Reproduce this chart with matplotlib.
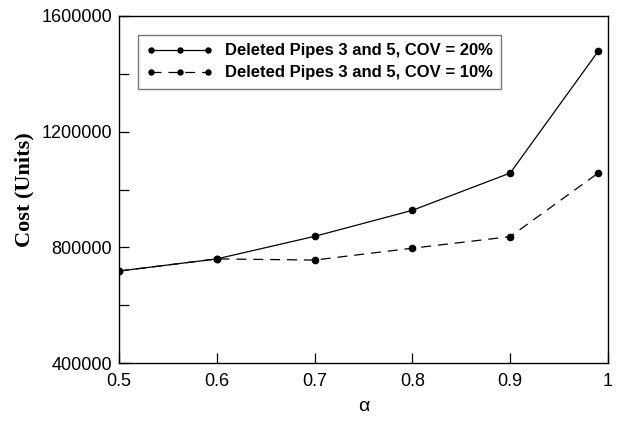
import numpy as np
import matplotlib.pyplot as plt
from matplotlib.ticker import MultipleLocator

alpha = [0.5, 0.6, 0.7, 0.8, 0.9, 0.99]
cost_cov20 = [718000, 760000, 838000, 928000, 1057000, 1478000]
cost_cov10 = [718000, 760000, 756000, 797000, 837000, 1057000]

plt.rcParams['font.family'] = ['Liberation Sans', 'DejaVu Sans']

fig = plt.figure(figsize=(6.17, 4.22), dpi=100)
ax = fig.add_axes([119/617, 1-363/422, (608-119)/617, (363-16)/422])

ax.plot(alpha, cost_cov20, '-', color='black', lw=0.9, marker='o', ms=4.5,
        label='Deleted Pipes 3 and 5, COV = 20%')
ax.plot(alpha, cost_cov10, '--', color='black', lw=0.9, marker='o', ms=4.5,
        dashes=(8, 5.5), label='Deleted Pipes 3 and 5, COV = 10%')

ax.set_xlim(0.5, 1.0)
ax.set_ylim(400000, 1600000)
ax.set_xticks([0.5, 0.6, 0.7, 0.8, 0.9, 1.0])
ax.set_xticklabels(['0.5', '0.6', '0.7', '0.8', '0.9', '1'])
ax.set_yticks([400000, 800000, 1200000, 1600000])
ax.set_yticklabels(['400000', '800000', '1200000', '1600000'])
ax.yaxis.set_minor_locator(MultipleLocator(200000))
ax.tick_params(direction='in', labelsize=13, length=7, width=0.9)
ax.tick_params(axis='x', pad=7)
ax.tick_params(axis='y', pad=5)
ax.tick_params(which='minor', direction='in', length=7, width=0.9)
for s in ax.spines.values():
    s.set_linewidth(1.0)

ax.set_xlabel('α', fontsize=14, labelpad=6)
ax.set_ylabel('Cost (Units)', fontsize=16, fontweight='bold',
              family='Liberation Serif', labelpad=5)

leg = ax.legend(loc='upper left', bbox_to_anchor=(0.039, 0.945), frameon=True,
                fancybox=False, prop={'weight': 'bold', 'size': 12},
                numpoints=3, markerscale=0.8, handlelength=4.0, borderpad=0.5,
                labelspacing=0.42, handletextpad=0.7, borderaxespad=0)
leg.get_frame().set_edgecolor('#555555')
leg.get_frame().set_linewidth(1.0)

fig.savefig('out.png', dpi=100)
